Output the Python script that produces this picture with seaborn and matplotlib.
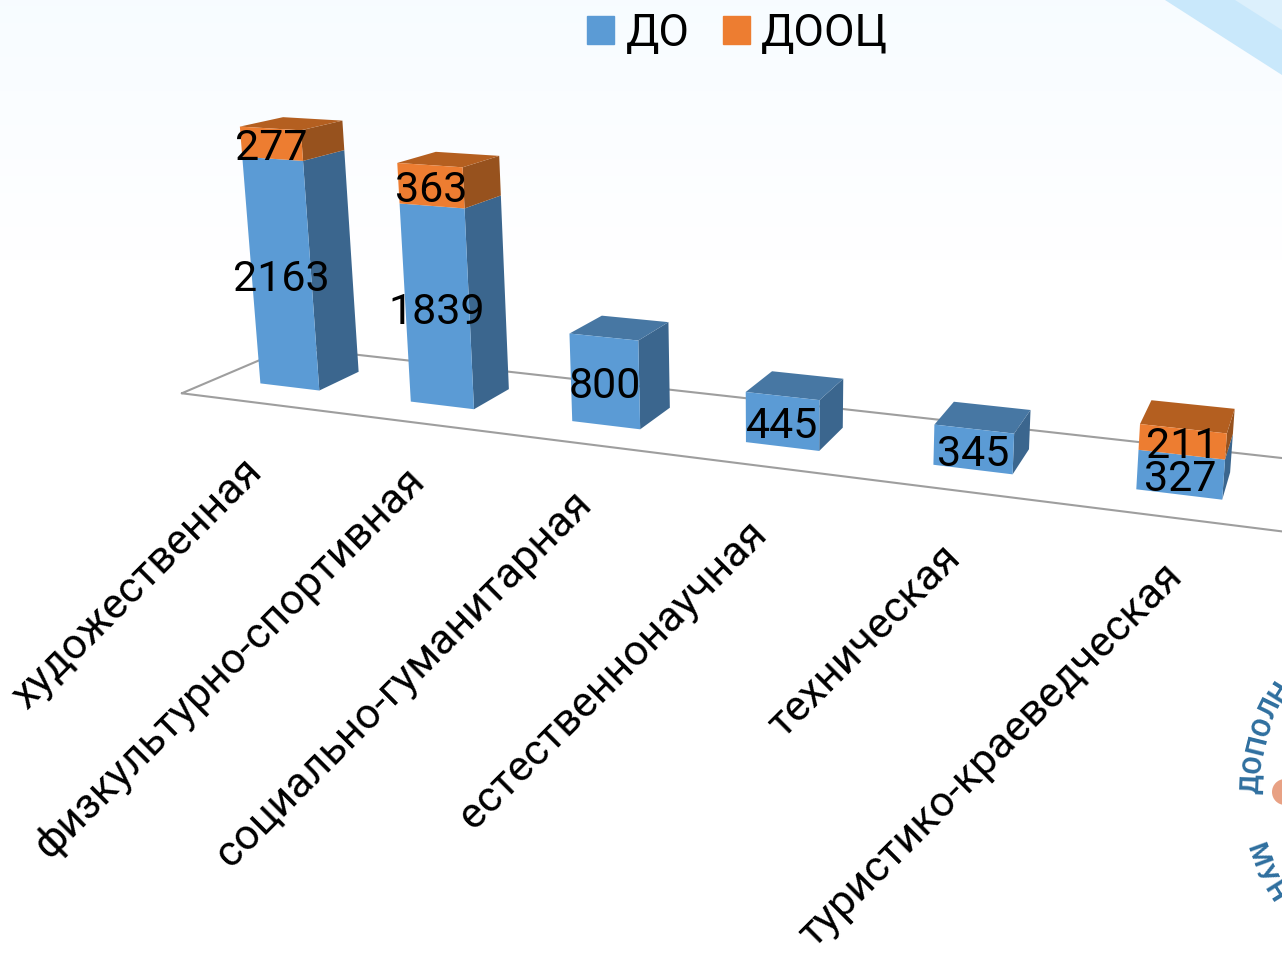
import numpy as np
import pandas as pd
import matplotlib
matplotlib.use("Agg")
import matplotlib.pyplot as plt
import seaborn as sns
from matplotlib.patches import Polygon, Patch, Circle
from matplotlib.transforms import Transform, IdentityTransform

categories = ["художественная", "физкультурно-спортивная", "социально-гуманитарная",
              "естественнонаучная", "техническая", "туристико-краеведческая"]
do_values = [2163, 1839, 800, 445, 345, 327]
dooc_values = [277, 363, 0, 0, 0, 211]
series_names = ["ДО", "ДООЦ"]

W, H = 1282, 971
BAR_WIDTH = 0.4
FLOOR_X = (-0.5, 5.5)
FLOOR_D = (-0.79, 1.775)
LABEL_NUDGE = [(0, 0), (7, 11), (6, 8), (0, 1), (-3, 1), (6, 10)]

# perspective camera: (position, value / 1000, depth, 1) -> picture pixels
CAMERA = np.array([[137.32816, -12.27131, 52.42849, 289.64846],
                   [4.50826, -107.97947, -4.75191, 386.93734],
                   [-0.03437, -0.01583, 0.03733, 1.0]])


def project(x, v, d):
    x, v, d = np.broadcast_arrays(np.asarray(x, float), np.asarray(v, float), np.asarray(d, float))
    pts = np.stack([x, v / 1000, d, np.ones_like(x, dtype=float)])
    h = CAMERA @ pts.reshape(4, -1)
    return (h[0] / h[2]).reshape(x.shape), (H - h[1] / h[2]).reshape(x.shape)


class FrontPlane(Transform):
    """Sends (position, value) of the bars' front faces through the camera"""
    input_dims = 2
    output_dims = 2

    def transform_non_affine(self, values):
        px, py = project(values[:, 0], values[:, 1], 0)
        return np.column_stack([px, py])


sns.set_theme(style="white")
plt.rcParams["font.family"] = ["Roboto", "DejaVu Sans"]

blue, orange = "#5B9BD5", "#ED7D31"
side = {"do": "#3B668E", "dooc": "#97521E"}
top = {"do": "#4777A3", "dooc": "#B45F20"}
pixels = IdentityTransform()

fig = plt.figure(figsize=(W / 100, H / 100), dpi=100)

# pale slide background
bg = fig.add_axes([0, 0, 1, 1], zorder=0)
grad = np.ones((H, 1, 3))
fade = np.clip(1 - np.arange(H) / 260, 0, 1)[:, None]
grad[:, :, 0] -= 0.03 * fade
grad[:, :, 1] -= 0.012 * fade
bg.imshow(grad, aspect="auto", extent=(0, W, 0, H))
bg.set_axis_off()
bg.add_patch(Polygon([(1165, H), (W, H), (W, H - 75)], color="#C9E8FB", lw=0, transform=pixels))
bg.add_patch(Polygon([(1235, H), (W, H), (W, H - 30)], color="#DCF0FC", lw=0, transform=pixels))

ax = fig.add_axes([0, 0, 1, 1], zorder=1)
ax.patch.set_alpha(0)
camera_plane = FrontPlane()

# floor of the chart
fx = [FLOOR_X[0], FLOOR_X[1], FLOOR_X[1], FLOOR_X[0], FLOOR_X[0]]
fd = [FLOOR_D[0], FLOOR_D[0], FLOOR_D[1], FLOOR_D[1], FLOOR_D[0]]
px, py = project(fx, 0, fd)
ax.plot(px, py, color="#9E9E9E", lw=1.5, transform=pixels, zorder=1, clip_on=False)


def face(corners, color):
    px, py = project(*zip(*corners))
    ax.add_patch(Polygon(np.column_stack([px, py]), color=color, lw=0, zorder=2, transform=pixels))


# side and top faces
half = BAR_WIDTH / 2
for i, (a, c) in enumerate(zip(do_values, dooc_values)):
    r = i + half
    face([(r, 0, 0), (r, a, 0), (r, a, 1), (r, 0, 1)], side["do"])
    if c:
        face([(r, a, 0), (r, a + c, 0), (r, a + c, 1), (r, a, 1)], side["dooc"])
    total = a + c
    face([(i - half, total, 0), (r, total, 0), (r, total, 1), (i - half, total, 1)], top["dooc" if c else "do"])

# front faces
df = pd.DataFrame({"pos": np.arange(len(categories)), "do": do_values, "dooc": dooc_values})
sns.barplot(data=df, x="pos", y="do", color=blue, saturation=1, width=BAR_WIDTH, linewidth=0, native_scale=True,
            ax=ax, transform=camera_plane, zorder=3, errorbar=None)
sns.barplot(data=df, x="pos", y="dooc", bottom=df["do"].to_numpy(), color=orange, saturation=1, native_scale=True,
            width=BAR_WIDTH, linewidth=0, ax=ax, transform=camera_plane, zorder=3, errorbar=None)
ax.set_axis_off()

# value labels
for i, (a, c) in enumerate(zip(do_values, dooc_values)):
    px, py = project(i, a / 2, 0)
    ax.text(px, py - 5, str(a), ha="center", va="center", fontsize=31, color="black", transform=pixels, zorder=5)
    if c:
        px, py = project(i, a + c / 2, 0)
        ax.text(px, py - 5, str(c), ha="center", va="center", fontsize=31, color="black", transform=pixels, zorder=5)

# category labels
for i, name in enumerate(categories):
    px, py = project(i, 0, FLOOR_D[0])
    dx, dy = LABEL_NUDGE[i]
    ax.text(px - 15 + dx, py - 48 + dy, name, rotation=45, ha="right", va="top", rotation_mode="anchor", fontsize=31,
            color="black", transform=pixels, zorder=5)

handles = [Patch(color=blue, label=series_names[0]), Patch(color=orange, label=series_names[1])]
ax.legend(handles=handles, ncol=2, loc="upper center", bbox_to_anchor=(0.5755, 1.028), frameon=False, labelcolor="black",
          fontsize=32, handlelength=0.6, handleheight=0.6, handletextpad=0.26, columnspacing=0.75)

# piece of the round logo at the right edge
logo = "#2F6F9F"
ax.add_patch(Circle((1285, H - 792), 13, color="#E8A184", lw=0, zorder=4, transform=pixels))
for k, letter in enumerate("ДОПОЛН"):
    t = np.radians(2 + 6.0 * k)
    ax.text(1437 - 185 * np.cos(t), H - 790 + 185 * np.sin(t), letter, rotation=90 - np.degrees(t), ha="center",
            va="center", fontsize=19, fontweight="bold", color=logo, transform=pixels, zorder=4)
for k, letter in enumerate("МУН"):
    t = np.radians(20 + 6.0 * k)
    ax.text(1437 - 192 * np.cos(t), H - 790 - 192 * np.sin(t), letter, rotation=np.degrees(t) - 90, ha="center",
            va="center", fontsize=19, fontweight="bold", color=logo, transform=pixels, zorder=4)

fig.savefig("out.png", dpi=100)
